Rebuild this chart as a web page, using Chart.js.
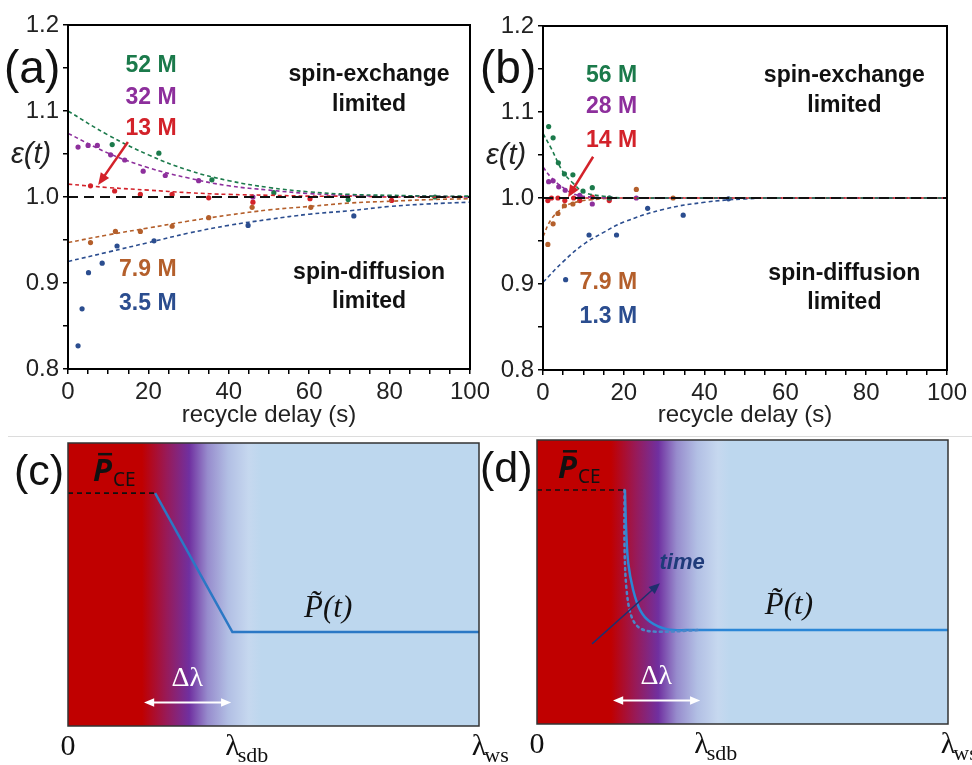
<!DOCTYPE html>
<html>
<head>
<meta charset="utf-8">
<script src="https://cdn.jsdelivr.net/npm/chart.js@4.4.1/dist/chart.umd.min.js"></script>
<style>
  body { margin: 0; background: #fff; width: 972px; height: 765px; position: relative; overflow: hidden; }
  canvas { position: absolute; }
  #sep { position: absolute; left: 8px; top: 436px; width: 964px; height: 1px; background: #dcdcdc; }
</style>
</head>
<body>
<canvas id="pa" width="500" height="430" style="left:0;top:0"></canvas>
<canvas id="pb" width="492" height="430" style="left:480px;top:0"></canvas>
<div id="sep"></div>
<canvas id="pc" width="530" height="329" style="left:0;top:436px"></canvas>
<canvas id="pd" width="492" height="329" style="left:480px;top:436px"></canvas>
<script>
// ---- panel (a): epsilon(t) vs recycle delay ----
const concA = ['52 M', '32 M', '13 M', '7.9 M', '3.5 M'];
const delayA = [
  [11.0, 22.6, 35.8, 51.2, 69.7, 91.3],
  [2.5, 5.0, 7.3, 10.6, 14.1, 18.7, 24.2, 32.5, 46.0],
  [5.6, 11.6, 18.0, 25.9, 35.0, 46.0, 60.2, 80.5],
  [5.6, 11.8, 18.0, 25.9, 35.0, 45.8, 60.4],
  [2.5, 3.5, 5.1, 8.5, 12.2, 21.4, 44.8, 71.1]
];
const epsA = [
  [1.061, 1.051, 1.020, 1.005, 0.997, 1.000],
  [1.058, 1.060, 1.060, 1.049, 1.043, 1.030, 1.025, 1.019, 1.000],
  [1.013, 1.007, 1.003, 1.003, 0.999, 0.994, 0.998, 0.996],
  [0.947, 0.960, 0.960, 0.966, 0.976, 0.988, 0.988],
  [0.827, 0.870, 0.912, 0.923, 0.943, 0.949, 0.967, 0.978]
];
const fitXA = [0, 10, 20, 30, 40, 50, 60, 70, 80, 90, 100];
const fitA = [
  [1.100, 1.072, 1.049, 1.031, 1.019, 1.011, 1.006, 1.003, 1.002, 1.001, 1.001],
  [1.074, 1.051, 1.034, 1.022, 1.013, 1.008, 1.004, 1.002, 1.001, 1.001, 1.000],
  [1.015, 1.011, 1.008, 1.005, 1.003, 1.002, 1.001, 1.001, 1.000, 1.000, 1.000],
  [0.947, 0.956, 0.964, 0.972, 0.979, 0.985, 0.989, 0.993, 0.995, 0.997, 0.998],
  [0.925, 0.936, 0.947, 0.958, 0.967, 0.974, 0.980, 0.984, 0.989, 0.992, 0.994]
];

// ---- panel (b) ----
const concB = ['56 M', '28 M', '14 M', '7.9 M', '1.3 M'];
const delayB = [
  [1.4, 2.5, 3.8, 5.3, 7.4, 9.9, 12.2, 16.4],
  [1.4, 2.5, 3.9, 5.5, 9.1, 12.2, 16.5, 23.1],
  [1.2, 2.1, 3.7, 5.4, 7.6, 9.1, 12.2, 16.4],
  [1.2, 2.5, 3.7, 5.3, 7.4, 23.1, 32.2],
  [5.6, 11.4, 18.2, 25.9, 34.7, 45.9]
];
const epsB = [
  [1.083, 1.070, 1.041, 1.028, 1.027, 1.008, 1.012, 1.000],
  [1.019, 1.020, 1.013, 1.009, 1.003, 0.993, 1.000, 1.000],
  [0.997, 1.000, 1.000, 0.997, 1.000, 0.997, 1.001, 0.997],
  [0.946, 0.970, 0.982, 0.991, 0.993, 1.010, 1.000],
  [0.905, 0.957, 0.957, 0.988, 0.980, 0.999]
];
const fitXB = [
  [0, 2, 5, 7.5, 10, 15, 20, 30, 100],
  [0, 2, 5, 8, 12, 20, 100],
  [0, 100],
  [0, 2, 5, 8, 12, 20, 100],
  [0, 5, 10, 15, 20, 30, 40, 50, 60, 100]
];
const fitB = [
  [1.075, 1.058, 1.030, 1.017, 1.007, 1.002, 1.000, 1.000, 1.000],
  [1.036, 1.024, 1.012, 1.004, 1.001, 1.000, 1.000],
  [1.000, 1.000],
  [0.955, 0.975, 0.989, 0.995, 0.998, 1.000, 1.000],
  [0.902, 0.926, 0.946, 0.960, 0.972, 0.987, 0.995, 0.999, 1.000, 1.000]
];

// ---- panels (c), (d): polarisation profile vs distance ----
const lamTicks = [0, 4, 10];
const lamMain = ['0', 'λ', 'λ'];
const lamSub = ['', 'sdb', 'ws'];
const pceX = [0, 2.12];
const pceY = [0.823, 0.823];
const profCX = [2.12, 4.0, 10];
const profCY = [0.823, 0.332, 0.332];
const pceDX = [0, 2.14];
const pceDY = [0.824, 0.824];
const profDX = [2.14, 2.17, 2.22, 2.34, 2.51, 2.75, 3.16, 3.8, 10];
const profDY = [0.824, 0.683, 0.566, 0.472, 0.401, 0.360, 0.334, 0.331, 0.331];
const earlyDX = [2.13, 2.13, 2.18, 2.30, 2.51, 2.91, 3.97];
const earlyDY = [0.824, 0.624, 0.472, 0.378, 0.337, 0.325, 0.331];

const colors = ['#1b7a4b', '#8d2f9c', '#d3222a', '#b45f2b', '#2b4d8f'];
const SANS = 'Liberation Sans, Arial, sans-serif';
const SERIF = 'Liberation Serif, Times New Roman, serif';

const pts = (xs, ys) => xs.map((x, i) => ({ x: x, y: ys[i] }));

function arrow(ctx, x1, y1, x2, y2, color, width, head, both) {
  const ang = Math.atan2(y2 - y1, x2 - x1);
  ctx.save();
  ctx.strokeStyle = color; ctx.fillStyle = color; ctx.lineWidth = width;
  ctx.beginPath();
  ctx.moveTo(x1 + (both ? head * 0.8 * Math.cos(ang) : 0), y1 + (both ? head * 0.8 * Math.sin(ang) : 0));
  ctx.lineTo(x2 - head * 0.8 * Math.cos(ang), y2 - head * 0.8 * Math.sin(ang));
  ctx.stroke();
  const tip = (x, y, a) => {
    ctx.beginPath();
    ctx.moveTo(x, y);
    ctx.lineTo(x - head * Math.cos(a - 0.4), y - head * Math.sin(a - 0.4));
    ctx.lineTo(x - head * Math.cos(a + 0.4), y - head * Math.sin(a + 0.4));
    ctx.closePath(); ctx.fill();
  };
  tip(x2, y2, ang);
  if (both) tip(x1, y1, ang + Math.PI);
  ctx.restore();
}

// labels for top panels: concentration positions and regime texts in data units
function topNotes(panel, conc, concX, concY, regX, arrowFrom, arrowTo) {
  return {
    id: 'notes',
    afterDraw(chart) {
      const { ctx, chartArea: a, scales: { x, y } } = chart;
      ctx.save();
      ctx.strokeStyle = '#000'; ctx.lineWidth = 2;
      ctx.strokeRect(a.left, a.top, a.right - a.left, a.bottom - a.top);
      ctx.textBaseline = 'middle';
      ctx.font = 'bold 23px ' + SANS;
      ctx.textAlign = 'right';
      conc.forEach((t, i) => {
        ctx.fillStyle = colors[i];
        ctx.fillText(t, x.getPixelForValue(concX), y.getPixelForValue(concY[i]));
      });
      ctx.fillStyle = '#111';
      ctx.textAlign = 'center';
      const rx = x.getPixelForValue(regX);
      ctx.fillText('spin-exchange', rx, y.getPixelForValue(1.142));
      ctx.fillText('limited', rx, y.getPixelForValue(1.107));
      ctx.fillText('spin-diffusion', rx, y.getPixelForValue(0.912));
      ctx.fillText('limited', rx, y.getPixelForValue(0.878));
      // epsilon axis label
      ctx.font = 'italic 29px ' + SANS;
      ctx.fillStyle = '#222';
      ctx.textAlign = 'left';
      ctx.fillText('ε(t)', a.left - 57, y.getPixelForValue(1.05) + 1);
      // panel letter
      ctx.font = '46px ' + SANS;
      ctx.fillStyle = '#111';
      ctx.fillText(panel, a.left - (panel === '(a)' ? 64 : 63), 70);
      ctx.restore();
      arrow(ctx, x.getPixelForValue(arrowFrom[0]), y.getPixelForValue(arrowFrom[1]),
        x.getPixelForValue(arrowTo[0]), y.getPixelForValue(arrowTo[1]), '#d3222a', 2.5, 13, false);
    }
  };
}

function topChart(id, fx, fy, dx, dy, pad, yw, xh, notes) {
  const ds = [];
  ds.push({ data: pts([0, 100], [1, 1]), showLine: true, borderColor: '#111', borderWidth: 2, borderDash: [10, 6], pointRadius: 0 });
  fx.forEach((xs, i) => ds.push({
    data: pts(xs, fy[i]), showLine: true, borderColor: colors[i], borderWidth: 1.6,
    borderDash: [4, 3], pointRadius: 0, tension: 0.4
  }));
  dx.forEach((xs, i) => ds.push({
    data: pts(xs, dy[i]), showLine: false, pointRadius: 2.6, pointBorderWidth: 0,
    pointBackgroundColor: colors[i], borderColor: colors[i]
  }));
  return new Chart(document.getElementById(id), {
    type: 'scatter',
    data: { datasets: ds },
    options: {
      responsive: false, animation: false, events: [],
      layout: { padding: pad },
      plugins: { legend: { display: false }, tooltip: { enabled: false } },
      scales: {
        x: {
          type: 'linear', min: 0, max: 100,
          afterFit: s => { s.height = xh; },
          ticks: {
            stepSize: 5, autoSkip: false, maxRotation: 0, color: '#222', padding: 4,
            font: { family: SANS, size: 24 },
            callback: v => (v % 20 === 0 ? String(v) : '')
          },
          grid: { drawOnChartArea: false, tickLength: 5, color: '#000', lineWidth: 1.5 },
          border: { color: '#000', width: 2 },
          title: {
            display: true, text: 'recycle delay (s)', color: '#222',
            font: { family: SANS, size: 24 }, padding: { top: 0, bottom: 0 }
          }
        },
        y: {
          min: 0.8, max: 1.2,
          afterFit: s => { s.width = yw; },
          ticks: {
            stepSize: 0.05, autoSkip: false, color: '#222', padding: 4,
            font: { family: SANS, size: 24 },
            callback: v => (Math.abs(v * 10 - Math.round(v * 10)) < 1e-6 ? v.toFixed(1) : '')
          },
          grid: { drawOnChartArea: false, tickLength: 5, color: '#000', lineWidth: 1.5 },
          border: { color: '#000', width: 2 }
        }
      }
    },
    plugins: [notes]
  });
}

topChart('pa', fitA.map(() => fitXA), fitA, delayA, epsA,
  { left: 0, top: 25, right: 30, bottom: 0 }, 68, 61,
  topNotes('(a)', concA, 27, [1.153, 1.116, 1.079, 0.916, 0.876], 74.9, [14.9, 1.064], [7.5, 1.014]));
topChart('pb', fitXB, fitB, delayB, epsB,
  { left: 0, top: 26, right: 25, bottom: 0 }, 63, 60,
  topNotes('(b)', concB, 23.3, [1.142, 1.106, 1.067, 0.901, 0.862], 74.6, [12.4, 1.048], [6.2, 1.001]));

// ---- bottom panels ----
function bottomNotes(panel, withTime) {
  return {
    id: 'profile',
    beforeDatasetsDraw(chart) {
      const { ctx, chartArea: a } = chart;
      const w = a.right - a.left;
      const g = ctx.createLinearGradient(a.left, 0, a.right, 0);
      g.addColorStop(0, '#c00000');
      g.addColorStop(0.18, '#c00000');
      g.addColorStop(0.24, '#981a58');
      g.addColorStop(0.295, '#7030a0');
      g.addColorStop(0.34, '#978ccd');
      g.addColorStop(0.39, '#b2bfe4');
      g.addColorStop(0.44, '#c6d8ef');
      g.addColorStop(0.47, '#bdd7ee');
      g.addColorStop(1, '#bdd7ee');
      ctx.save();
      ctx.fillStyle = g;
      ctx.fillRect(a.left, a.top, w, a.bottom - a.top);
      ctx.restore();
    },
    afterDraw(chart) {
      const { ctx, chartArea: a, scales: { x, y } } = chart;
      ctx.save();
      ctx.strokeStyle = '#333'; ctx.lineWidth = 1.5;
      ctx.strokeRect(a.left, a.top, a.right - a.left, a.bottom - a.top);
      // distance tick labels
      ctx.fillStyle = '#111';
      ctx.textBaseline = 'alphabetic';
      lamTicks.forEach((v, i) => {
        const px = x.getPixelForValue(v);
        ctx.font = '30px ' + SERIF;
        ctx.textAlign = 'center';
        ctx.fillText(lamMain[i], px, a.bottom + 29);
        if (lamSub[i]) {
          const mw = ctx.measureText(lamMain[i]).width;
          ctx.font = '22px ' + SERIF;
          ctx.textAlign = 'left';
          ctx.fillText(lamSub[i], px + mw / 2 - 2, a.bottom + 36);
        }
      });
      // P-bar CE label
      const px0 = x.getPixelForValue(panel === '(c)' ? 0.61 : 0.51);
      const py0 = y.getPixelForValue(0.866);
      ctx.textAlign = 'left';
      ctx.font = 'italic bold 31px Noto Sans, ' + SANS;
      ctx.fillText('P', px0, py0);
      ctx.fillRect(px0 + 5, py0 - 28, 14, 2.5);
      ctx.font = '19px Noto Sans, ' + SANS;
      ctx.fillText('CE', px0 + 20, py0 + 5);
      // P-tilde(t) label
      ctx.font = 'italic 31px ' + SERIF;
      ctx.textAlign = 'center';
      ctx.textBaseline = 'middle';
      ctx.fillText('P\u0303(t)', x.getPixelForValue(panel === '(c)' ? 6.33 : 6.13), y.getPixelForValue(0.415));
      // delta-lambda
      ctx.fillStyle = '#fff';
      ctx.font = '28px ' + SERIF;
      ctx.fillText('Δλ', x.getPixelForValue(2.9), y.getPixelForValue(0.166));
      if (withTime) {
        ctx.fillStyle = '#1f3b7a';
        ctx.font = 'italic bold 22px ' + SANS;
        ctx.fillText('time', x.getPixelForValue(3.53), y.getPixelForValue(0.567));
      }
      // panel letter
      ctx.fillStyle = '#111';
      ctx.font = '43px ' + SANS;
      ctx.textAlign = 'left';
      ctx.fillText(panel, a.left - (panel === '(c)' ? 54 : 57), a.top + 30);
      ctx.restore();
      arrow(ctx, x.getPixelForValue(1.85), y.getPixelForValue(0.083), x.getPixelForValue(3.97), y.getPixelForValue(0.083), '#fff', 2, 11, true);
      if (withTime) {
        arrow(ctx, x.getPixelForValue(1.34), y.getPixelForValue(0.282), x.getPixelForValue(2.99), y.getPixelForValue(0.496), '#1f2f6e', 1.5, 12, false);
      }
    }
  };
}

function bottomChart(id, ds, pad, panel, withTime) {
  return new Chart(document.getElementById(id), {
    type: 'scatter',
    data: { datasets: ds },
    options: {
      responsive: false, animation: false, events: [],
      layout: { padding: pad },
      plugins: { legend: { display: false }, tooltip: { enabled: false } },
      scales: {
        x: { type: 'linear', min: 0, max: 10, display: false },
        y: { min: 0, max: 1, display: false }
      }
    },
    plugins: [bottomNotes(panel, withTime)]
  });
}

bottomChart('pc', [
  { data: pts(pceX, pceY), showLine: true, borderColor: '#111', borderWidth: 1.6, borderDash: [5, 4], pointRadius: 0 },
  { data: pts(profCX, profCY), showLine: true, borderColor: '#2b78c5', borderWidth: 2.5, pointRadius: 0 }
], { left: 68, top: 7, right: 51, bottom: 39 }, '(c)', false);

bottomChart('pd', [
  { data: pts(pceDX, pceDY), showLine: true, borderColor: '#111', borderWidth: 1.6, borderDash: [5, 4], pointRadius: 0 },
  { data: pts(earlyDX, earlyDY), showLine: true, borderColor: '#4a86c8', borderWidth: 2.5, borderDash: [2, 4], borderCapStyle: 'round', pointRadius: 0, tension: 0.35 },
  { data: pts(profDX, profDY), showLine: true, borderColor: '#2b86d6', borderWidth: 2.5, pointRadius: 0, tension: 0.35 }
], { left: 57, top: 4, right: 24, bottom: 41 }, '(d)', true);
</script>
</body>
</html>
